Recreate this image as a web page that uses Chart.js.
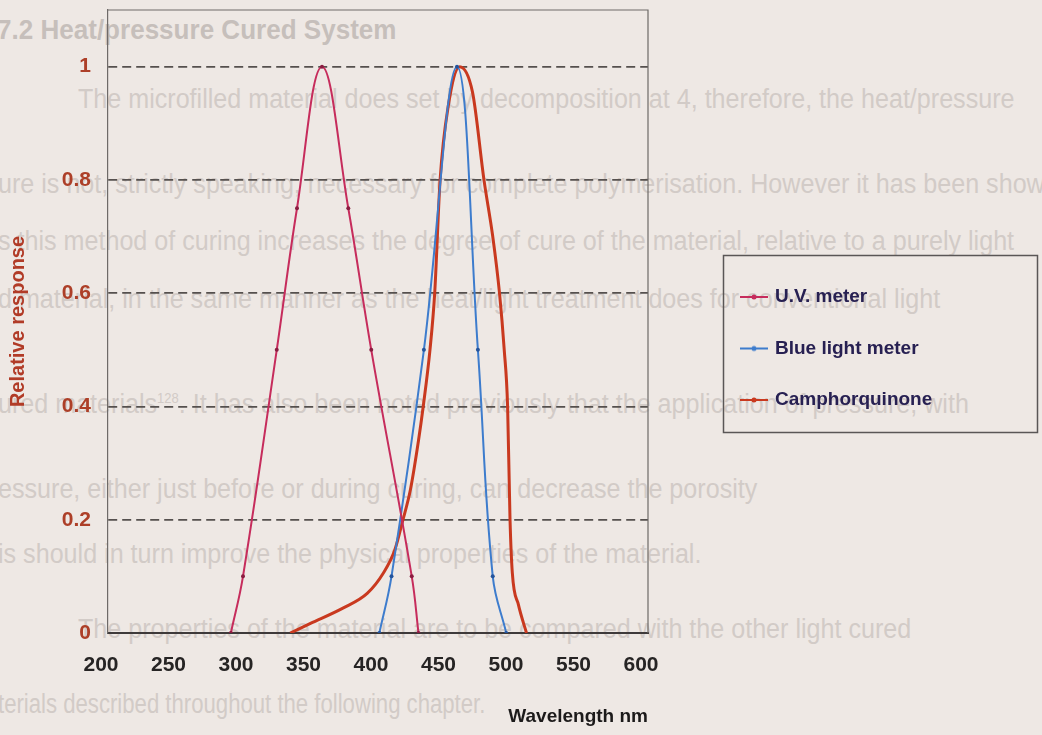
<!DOCTYPE html>
<html>
<head>
<meta charset="utf-8">
<title>Relative response</title>
<script src="https://cdn.jsdelivr.net/npm/chart.js@4.4.1/dist/chart.umd.min.js"></script>
<style>
  body { margin: 0; background: #eee8e4; }
  #page {
    position: absolute; left: 0; top: 0; width: 1042px; height: 735px; overflow: hidden;
    font-family: "Liberation Sans", Arial, sans-serif;
    font-size: 27px; color: #d2cbc7; white-space: nowrap;
  }
  #page div { position: absolute; transform: scaleX(0.93); transform-origin: 0 0; }
  #page .head { font-weight: bold; color: #c6bfbb; font-size: 28px; }
  #page .last { transform: scaleX(0.82); }
  #chart { position: absolute; left: 0; top: 0; }
</style>
</head>
<body>
<!-- faded page text behind the figure -->
<div id="page">
  <div class="head" style="left:-3px; top:14px;">7.2 Heat/pressure Cured System</div>
  <div style="left:78px; top:84px;">The microfilled material does set by decomposition at 4, therefore, the heat/pressure</div>
  <div style="left:-2px; top:169px;">ure is not, strictly speaking, necessary for complete polymerisation. However it has been shown</div>
  <div style="left:-2px; top:226px;">s this method of curing increases the degree of cure of the material, relative to a purely light</div>
  <div style="left:-2px; top:284px;">d material, in the same manner as the heat/light treatment does for conventional light</div>
  <div style="left:-2px; top:389px;">ured materials<sup style="font-size:14px">128</sup>. It has also been noted previously that the application of pressure, with</div>
  <div style="left:-2px; top:474px;">essure, either just before or during curing, can decrease the porosity</div>
  <div style="left:-2px; top:539px;">is should in turn improve the physical properties of the material.</div>
  <div style="left:78px; top:614px;">The properties of the material are to be compared with the other light cured</div>
  <div class="last" style="left:-2px; top:689px;">terials described throughout the following chapter.</div>
</div>
<canvas id="chart" width="1042" height="735"></canvas>
<script>
const xTicks = [200, 250, 300, 350, 400, 450, 500, 550, 600];
const yTicks = [0, 0.2, 0.4, 0.6, 0.8, 1];

const uvWavelength = [291, 300, 325, 340, 358.5, 378, 395, 425, 430];
const uvResponse = [0, 0.1, 0.5, 0.75, 1, 0.75, 0.5, 0.1, 0];

const blueWavelength = [401, 410, 434, 458.5, 474, 485, 495];
const blueResponse = [0, 0.1, 0.5, 1, 0.5, 0.1, 0];

const cqWavelength = [335, 350, 374, 392, 404, 412.5, 418.5, 424, 430, 433.5, 438.5, 442, 446, 452, 460.5, 470, 478.5, 485, 490, 493.5, 496, 497.8, 499.5, 504, 510];
const cqResponse = [0, 0.017, 0.044, 0.07, 0.106, 0.147, 0.2, 0.253, 0.34, 0.4, 0.5, 0.6, 0.8, 0.93, 1, 0.955, 0.8, 0.7, 0.6, 0.5, 0.4, 0.2, 0.106, 0.05, 0];

const seriesNames = ["U.V. meter", "Blue light meter", "Camphorquinone"];
const seriesColors = ["#c62c5c", "#3d7ccd", "#c9391f"];

const FONT = '"Liberation Sans", Arial, sans-serif';

function pairs(xs, ys) {
  return xs.map((x, i) => ({ x: x, y: ys[i] }));
}

// little line-with-dot sample for the legend
function legendSample(color) {
  const c = document.createElement("canvas");
  c.width = 28; c.height = 8;
  const g = c.getContext("2d");
  g.strokeStyle = color; g.lineWidth = 2;
  g.beginPath(); g.moveTo(0, 4); g.lineTo(28, 4); g.stroke();
  g.fillStyle = color;
  g.beginPath(); g.arc(14, 4, 2.5, 0, Math.PI * 2); g.fill();
  return c;
}

const frame = {
  id: "frame",
  beforeDatasetsDraw(chart) {
    const a = chart.chartArea;
    const ctx = chart.ctx;
    ctx.save();
    ctx.strokeStyle = "#6e6a68";
    ctx.lineWidth = 1.2;
    ctx.beginPath();
    ctx.moveTo(a.left, a.top);
    ctx.lineTo(a.right, a.top);
    ctx.lineTo(a.right, a.bottom);
    ctx.stroke();
    ctx.restore();
  }
};

const legendBox = {
  id: "legendBox",
  afterDraw(chart) {
    const ctx = chart.ctx;
    ctx.save();
    ctx.strokeStyle = "#5a5656";
    ctx.lineWidth = 1.5;
    ctx.strokeRect(723.5, 255.5, 314, 177);
    ctx.font = "bold 19px " + FONT;
    ctx.textBaseline = "middle";
    chart.data.datasets.forEach((ds, i) => {
      const y = 297 + i * 51.5;
      ctx.drawImage(legendSample(ds.borderColor), 740, y - 4);
      ctx.fillStyle = "#272052";
      ctx.fillText(ds.label, 775, y);
    });
    ctx.restore();
  }
};

new Chart(document.getElementById("chart"), {
  type: "line",
  data: {
    datasets: [
      {
        label: seriesNames[0],
        data: pairs(uvWavelength, uvResponse),
        borderColor: seriesColors[0],
        backgroundColor: "#8a1c40",
        borderWidth: 2,
        pointRadius: 2,
        pointBorderWidth: 0,
        tension: 0.4
      },
      {
        label: seriesNames[1],
        data: pairs(blueWavelength, blueResponse),
        borderColor: seriesColors[1],
        backgroundColor: "#24549c",
        borderWidth: 2,
        pointRadius: 2,
        pointBorderWidth: 0,
        tension: 0.4
      },
      {
        label: seriesNames[2],
        data: pairs(cqWavelength, cqResponse),
        borderColor: seriesColors[2],
        backgroundColor: seriesColors[2],
        borderWidth: 3,
        pointRadius: 0,
        cubicInterpolationMode: "monotone"
      }
    ]
  },
  options: {
    responsive: false,
    animation: false,
    layout: { padding: { left: 0, right: 394, top: 10, bottom: 0 } },
    plugins: {
      legend: { display: false },
      tooltip: { enabled: false }
    },
    scales: {
      x: {
        type: "linear",
        min: 200,
        max: 600,
        afterBuildTicks: (s) => { s.ticks = xTicks.map((v) => ({ value: v })); },
        afterFit: (s) => { s.height = 102; s.paddingLeft = 0; s.paddingRight = 0; },
        grid: { display: false, drawTicks: false },
        border: { color: "#3e3a3a", width: 2 },
        ticks: {
          padding: 20,
          labelOffset: -7,
          color: "#262424",
          font: { family: FONT, size: 21, weight: "bold" }
        },
        title: {
          display: true,
          text: "Wavelength nm",
          align: "end",
          color: "#1c1a1a",
          font: { family: FONT, size: 19, weight: "bold" },
          padding: { top: 0, bottom: 7 }
        }
      },
      y: {
        min: 0,
        max: 1.1,
        afterBuildTicks: (s) => { s.ticks = yTicks.map((v) => ({ value: v })); },
        afterFit: (s) => { s.width = 108; s.paddingTop = 0; s.paddingBottom = 0; },
        grid: {
          drawTicks: false,
          lineWidth: 1.8,
          color: (c) => (c.tick && c.tick.value === 0 ? "rgba(0,0,0,0)" : "#55504e")
        },
        border: { color: "#6e6a68", width: 1.2, dash: [9, 5] },
        ticks: {
          padding: 17,
          color: "#ad3f28",
          font: { family: FONT, size: 21, weight: "bold" },
          callback: (v) => String(v)
        },
        title: {
          display: true,
          text: "Relative response",
          color: "#b13b27",
          font: { family: FONT, size: 20, weight: "bold" },
          padding: { top: 6, bottom: 0 }
        }
      }
    }
  },
  plugins: [frame, legendBox]
});
</script>
</body>
</html>
